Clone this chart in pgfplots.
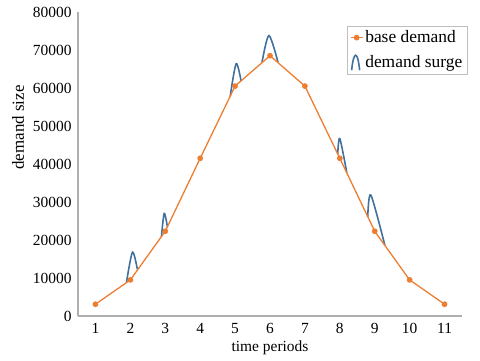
\documentclass[border=0pt]{standalone}
\usepackage{pgfplots}
\pgfplotsset{compat=1.18}
\usepackage{fontspec}
\setmainfont{Liberation Serif}

\definecolor{baseorange}{RGB}{237,125,49}
\definecolor{surgeblue}{RGB}{65,113,156}
\definecolor{axisgray}{RGB}{175,175,175}

\pgfplotsset{
    base legend/.style={legend image code/.code={
        \draw[##1] (0bp,0bp) -- (12bp,0bp);
        \draw[##1, mark repeat=1] plot coordinates {(6bp,0bp)};}},
    surge legend/.style={legend image code/.code={
        \draw[##1] (1bp,-8bp) .. controls (3bp,12bp) and (7bp,12bp) .. (9bp,-8bp);}},
    surge/.style={surgeblue, line width=1.6pt, smooth, forget plot},
}

\begin{document}
\begin{tikzpicture}
\begin{axis}[
    scale only axis,
    width=384bp, height=304bp,
    font=\fontsize{15.5}{18}\selectfont,
    xmin=0.5, xmax=11.5,
    ymin=0, ymax=80000,
    axis lines=left,
    axis line style={-, draw=axisgray, line width=1.2pt},
    major tick length=0pt,
    xtick={1,...,11},
    ytick={0,10000,...,80000},
    scaled y ticks=false,
    /pgf/number format/.cd, set thousands separator={}, assume math mode=true,
    /pgfplots/.cd,
    yticklabel style={xshift=-3bp},
    xticklabel style={yshift=-4bp},
    xlabel={time periods},
    ylabel={demand size},
    xlabel style={at={(axis description cs:0.5,0)}, anchor=center, yshift=-32bp},
    ylabel style={at={(axis description cs:-0.156,0.62)}, anchor=center,
        font=\fontsize{17}{20}\selectfont},
    legend style={at={(rel axis cs:0.70,0.955)}, anchor=north west,
        draw=axisgray!80, fill=white, font=\fontsize{17.5}{20}\selectfont,
        row sep=3bp, inner sep=3bp},
    legend cell align=left,
]
% demand surges (one bump per period with a surge)
\addplot[surge] coordinates {(1.89,8900) (2.06,16800) (2.20,12300)};
\addplot[surge] coordinates {(2.89,20900) (2.97,27000) (3.06,23500)};
\addplot[surge] coordinates {(4.86,57800) (5.03,66400) (5.17,61900)};
\addplot[surge] coordinates {(5.77,66700) (5.97,73800) (6.23,66700)};
\addplot[surge] coordinates {(7.94,42600) (8.00,46700) (8.20,37700)};
\addplot[surge] coordinates {(8.80,26100) (8.89,31800) (9.29,18600)};
% base demand
\addplot[baseorange, line width=1.3pt, mark=*, mark size=2.2pt, base legend]
    coordinates {
    (1,3100) (2,9500) (3,22300) (4,41500) (5,60500) (6,68500)
    (7,60500) (8,41500) (9,22300) (10,9500) (11,3100)};
\addlegendentry{base demand}
\addlegendimage{surgeblue, line width=1.6pt, surge legend}
\addlegendentry{demand surge}
\end{axis}
\pgfresetboundingbox
\useasboundingbox (current axis.south west) ++(-78bp,-45bp) rectangle ++(480bp,361bp);
\end{tikzpicture}
\end{document}
